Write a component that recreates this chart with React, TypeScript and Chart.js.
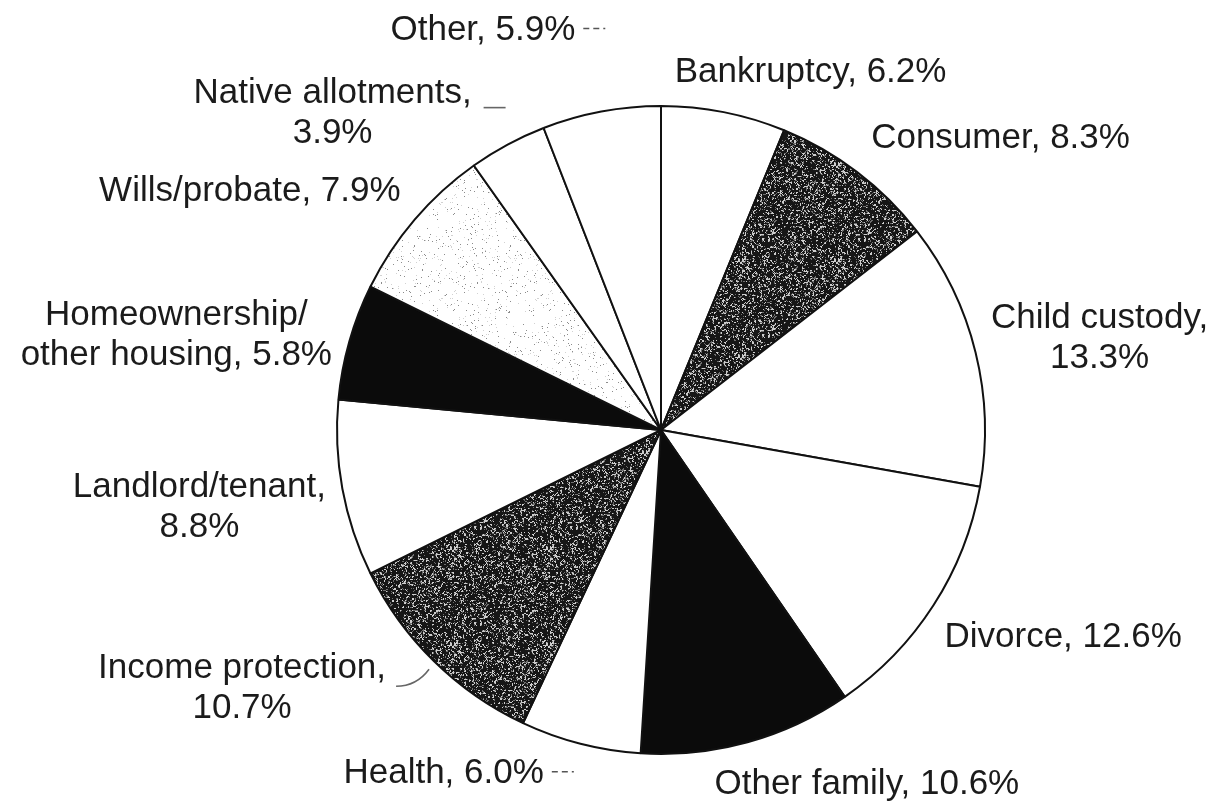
import React, { useEffect, useRef } from "react";
import { Chart, registerables } from "chart.js";

Chart.register(...registerables);

// ---- data ----
const categories: string[] = [
  "Bankruptcy",
  "Consumer",
  "Child custody",
  "Divorce",
  "Other family",
  "Health",
  "Income protection",
  "Landlord/tenant",
  "Homeownership/other housing",
  "Wills/probate",
  "Native allotments",
  "Other",
];
const shares: number[] = [6.2, 8.3, 13.3, 12.6, 10.6, 6.0, 10.7, 8.8, 5.8, 7.9, 3.9, 5.9];
const labelLines: string[][] = [
  ["Bankruptcy, 6.2%"],
  ["Consumer, 8.3%"],
  ["Child custody,", "13.3%"],
  ["Divorce, 12.6%"],
  ["Other family, 10.6%"],
  ["Health, 6.0%"],
  ["Income protection,", "10.7%"],
  ["Landlord/tenant,", "8.8%"],
  ["Homeownership/", "other housing, 5.8%"],
  ["Wills/probate, 7.9%"],
  ["Native allotments,", "3.9%"],
  ["Other, 5.9%"],
];

// ---- styles ----
type Fill = "white" | "dark" | "black" | "light";
const fillKinds: Fill[] = [
  "white", "dark", "white", "white", "black", "white",
  "dark", "white", "black", "light", "white", "white",
];

type Layout = {
  align: CanvasTextAlign;
  dx: number;
  dy: number;
  tail?: boolean;
  leader?: [number, number, number, number];
};
// label offsets relative to the outer midpoint of each arc
const labelLayout: Layout[] = [
  { align: "left", dx: -49, dy: -40 },
  { align: "left", dx: 14, dy: -34 },
  { align: "center", dx: 124, dy: -14 },
  { align: "left", dx: 11, dy: 32 },
  { align: "left", dx: -33, dy: 42 },
  { align: "left", dx: -237, dy: 30, tail: true },
  { align: "center", dx: -192, dy: 27, leader: [-38, 25, -5, 8] },
  { align: "center", dx: -143, dy: 19 },
  { align: "center", dx: -173, dy: -6 },
  { align: "right", dx: -14, dy: -28 },
  { align: "center", dx: -175, dy: -31, leader: [-24, -37, -2, -37] },
  { align: "right", dx: -26, dy: -81, tail: true },
];

const FONT_SIZE = 35;
const LINE_H = 40;
const FONT = `${FONT_SIZE}px "Liberation Sans", Arial, Helvetica, sans-serif`;

function hash(x: number, y: number, seed: number): number {
  let h = (Math.imul(x, 374761393) + Math.imul(y, 668265263) + Math.imul(seed, 144665)) | 0;
  h = Math.imul(h ^ (h >>> 13), 1274126177);
  h = h ^ (h >>> 16);
  return (h >>> 0) / 4294967296;
}

function makePattern(kind: Fill): CanvasPattern | string {
  if (kind === "white") return "#ffffff";
  if (kind === "black") return "#0b0b0b";
  const size = 96;
  const c = document.createElement("canvas");
  c.width = size;
  c.height = size;
  const g = c.getContext("2d")!;
  const img = g.createImageData(size, size);
  for (let y = 0; y < size; y++) {
    for (let x = 0; x < size; x++) {
      const r = hash(x, y, kind === "dark" ? 7 : 3);
      const r2 = hash(x >> 1, y >> 1, 11);
      let v: number;
      if (kind === "dark") {
        const t = r * 0.5 + r2 * 0.5;
        v = t > 0.72 ? 205 : t > 0.62 ? 110 : 22;
      } else {
        v = r > 0.98 ? 140 : r > 0.96 ? 210 : 255;
      }
      const k = (y * size + x) * 4;
      img.data[k] = v;
      img.data[k + 1] = v;
      img.data[k + 2] = v;
      img.data[k + 3] = 255;
    }
  }
  g.putImageData(img, 0, 0);
  return g.createPattern(c, "repeat")!;
}

const labelPlugin = {
  id: "outerLabels",
  afterDraw(chart: any) {
    const ctx: CanvasRenderingContext2D = chart.ctx;
    const meta = chart.getDatasetMeta(0);
    ctx.save();
    ctx.font = FONT;
    ctx.fillStyle = "#1b1b1b";
    ctx.textBaseline = "middle";
    meta.data.forEach((arc: any, i: number) => {
      const { x, y, startAngle, endAngle, outerRadius } = arc.getProps(
        ["x", "y", "startAngle", "endAngle", "outerRadius"],
        true
      );
      const mid = (startAngle + endAngle) / 2;
      const px = x + Math.cos(mid) * outerRadius;
      const py = y + Math.sin(mid) * outerRadius;
      const L = labelLayout[i];
      const ax = px + L.dx;
      const ay = py + L.dy;
      const lines = labelLines[i];
      ctx.textAlign = L.align;
      const top = ay - ((lines.length - 1) * LINE_H) / 2;
      lines.forEach((t, k) => ctx.fillText(t, ax, top + k * LINE_H));
      if (L.tail) {
        const w = ctx.measureText(lines[0]).width;
        const right = L.align === "left" ? ax + w : L.align === "right" ? ax : ax + w / 2;
        ctx.save();
        ctx.strokeStyle = "#555";
        ctx.lineWidth = 1.6;
        ctx.setLineDash([6, 4]);
        ctx.beginPath();
        ctx.moveTo(right + 8, top - 2);
        ctx.lineTo(right + 30, top - 2);
        ctx.stroke();
        ctx.restore();
      }
      if (L.leader) {
        const [x1, y1, x2, y2] = L.leader;
        ctx.save();
        ctx.strokeStyle = "#666";
        ctx.lineWidth = 1.6;
        ctx.beginPath();
        ctx.moveTo(px + x1, py + y1);
        ctx.quadraticCurveTo(px + (x1 + x2) / 2 + 4, py + y1, px + x2, py + y2);
        ctx.stroke();
        ctx.restore();
      }
    });
    ctx.restore();
  },
};

export default function App() {
  const ref = useRef<HTMLCanvasElement | null>(null);
  useEffect(() => {
    document.body.style.margin = "0";
    document.body.style.background = "#ffffff";
    const canvas = ref.current!;
    const chart = new Chart(canvas, {
      type: "pie",
      data: {
        labels: categories,
        datasets: [
          {
            data: shares,
            backgroundColor: fillKinds.map(makePattern) as any,
            borderColor: "#111111",
            borderWidth: 2,
            hoverOffset: 0,
          },
        ],
      },
      options: {
        animation: false,
        responsive: true,
        maintainAspectRatio: false,
        rotation: 0,
        layout: { padding: { left: 336, right: 239, top: 105, bottom: 55 } },
        plugins: {
          legend: { display: false },
          tooltip: { enabled: false },
        },
      },
      plugins: [labelPlugin],
    });
    return () => chart.destroy();
  }, []);
  return (
    <div style={{ position: "fixed", left: 0, top: 0, width: 1225, height: 810, background: "#fff" }}>
      <canvas ref={ref} />
    </div>
  );
}
